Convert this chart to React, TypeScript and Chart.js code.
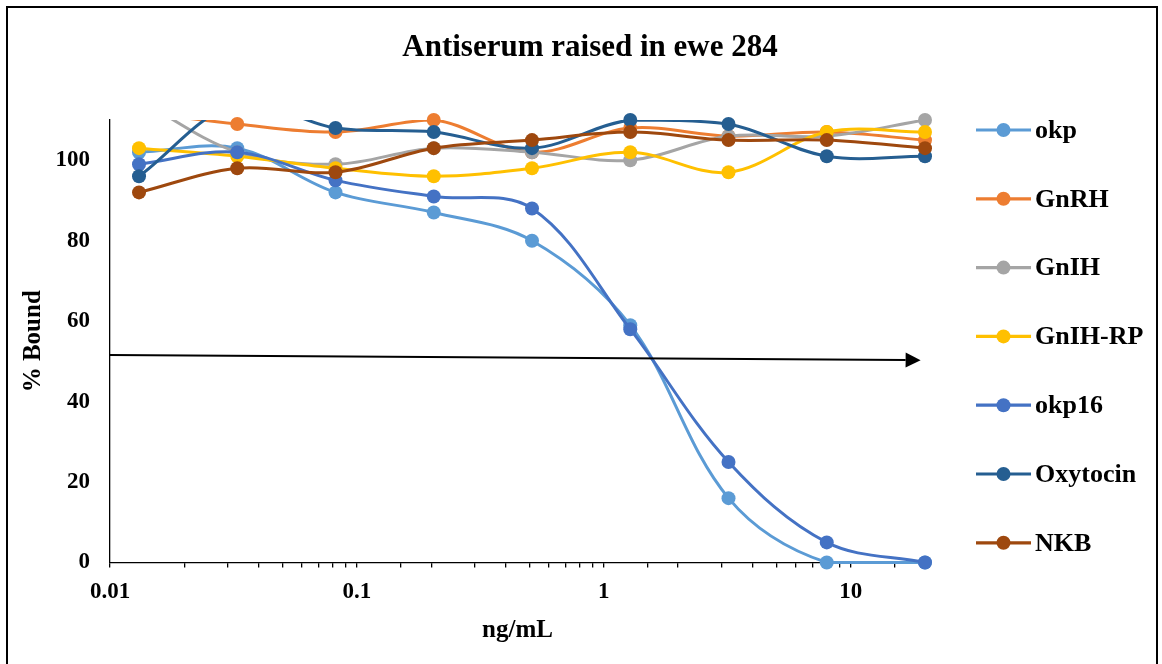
import React, { useEffect, useRef } from 'react';
import { Chart, registerables } from 'chart.js';

Chart.register(...registerables);

// Peptide concentrations (ng/mL), 2.5-fold serial dilution
const CONCENTRATIONS = [0.0131072, 0.032768, 0.08192, 0.2048, 0.512, 1.28, 3.2, 8, 20];

// % bound for each competing peptide
const OKP = [102, 103, 92, 87, 80, 59, 16, 0, 0];
const GNRH = [112, 109, 107, 110, 102, 108, 106, 107, 105];
const GNIH = [115, 102, 99, 103, 102, 100, 106, 106, 110];
const GNIH_RP = [103, 101, 98, 96, 98, 102, 97, 107, 107];
const OKP16 = [99, 102, 95, 91, 88, 58, 25, 5, 0];
const OXYTOCIN = [96, 114, 108, 107, 103, 110, 109, 101, 101];
const NKB = [92, 98, 97, 103, 105, 107, 105, 105, 103];

const SERIES_NAMES = ['okp', 'GnRH', 'GnIH', 'GnIH-RP', 'okp16', 'Oxytocin', 'NKB'];
const SERIES_VALUES = [OKP, GNRH, GNIH, GNIH_RP, OKP16, OXYTOCIN, NKB];
const SERIES_COLORS = ['#5B9BD5', '#ED7D31', '#A5A5A5', '#FFC000', '#4472C4', '#255E91', '#9E480E'];

const TITLE = 'Antiserum raised in ewe 284';
const X_TITLE = 'ng/mL';
const Y_TITLE = '% Bound';

const X_MIN = 0.01;
const X_MAX = 20;
const Y_MIN = 0;
const Y_MAX = 110;
const Y_STEP = 20;

// 50% binding reference arrow, in data units [ng/mL, % bound]
const ARROW_FROM = [0.01, 51.6];
const ARROW_TO = [19.2, 50.3];

const FONT_FAMILY = "'Liberation Serif', 'Times New Roman', serif";
const LINE_WIDTH = 3;
const MARKER_RADIUS = 7;

const isDecade = (v: number) => {
  const e = Math.log10(v);
  return Math.abs(e - Math.round(e)) < 1e-6;
};

const titlePlugin = {
  id: 'chartTitle',
  afterDraw(chart: any) {
    const ctx = chart.ctx;
    ctx.save();
    ctx.font = `bold 31px ${FONT_FAMILY}`;
    ctx.fillStyle = '#000';
    ctx.textAlign = 'center';
    ctx.textBaseline = 'middle';
    ctx.fillText(TITLE, 590, 48);
    ctx.restore();
  },
};

const arrowPlugin = {
  id: 'halfBindingArrow',
  afterDatasetsDraw(chart: any) {
    const { ctx, scales } = chart;
    const x0 = scales.x.getPixelForValue(ARROW_FROM[0]);
    const y0 = scales.y.getPixelForValue(ARROW_FROM[1]);
    const x1 = scales.x.getPixelForValue(ARROW_TO[0]);
    const y1 = scales.y.getPixelForValue(ARROW_TO[1]);
    const ang = Math.atan2(y1 - y0, x1 - x0);
    const headLen = 15;
    const headHalf = 7.5;
    const bx = x1 - headLen * Math.cos(ang);
    const by = y1 - headLen * Math.sin(ang);
    ctx.save();
    ctx.strokeStyle = '#000';
    ctx.fillStyle = '#000';
    ctx.lineWidth = 2;
    ctx.beginPath();
    ctx.moveTo(x0, y0);
    ctx.lineTo(bx, by);
    ctx.stroke();
    ctx.beginPath();
    ctx.moveTo(x1, y1);
    ctx.lineTo(bx + headHalf * Math.sin(ang), by - headHalf * Math.cos(ang));
    ctx.lineTo(bx - headHalf * Math.sin(ang), by + headHalf * Math.cos(ang));
    ctx.closePath();
    ctx.fill();
    ctx.restore();
  },
};

const legendPlugin = {
  id: 'sideLegend',
  afterDraw(chart: any) {
    const ctx = chart.ctx;
    const left = 976;
    const lineLen = 55;
    const top = 130;
    const step = 68.8;
    ctx.save();
    ctx.font = `bold 26px ${FONT_FAMILY}`;
    ctx.textBaseline = 'middle';
    ctx.textAlign = 'left';
    SERIES_NAMES.forEach((name, i) => {
      const y = top + i * step;
      const color = SERIES_COLORS[i];
      ctx.strokeStyle = color;
      ctx.lineWidth = 3.2;
      ctx.beginPath();
      ctx.moveTo(left, y);
      ctx.lineTo(left + lineLen, y);
      ctx.stroke();
      ctx.fillStyle = color;
      ctx.beginPath();
      ctx.arc(left + lineLen / 2, y, MARKER_RADIUS, 0, Math.PI * 2);
      ctx.fill();
      ctx.fillStyle = '#000';
      ctx.fillText(name, left + lineLen + 4, y + 1);
    });
    ctx.restore();
  },
};

export default function App() {
  const canvasRef = useRef<HTMLCanvasElement | null>(null);

  useEffect(() => {
    const canvas = canvasRef.current;
    if (!canvas) return;
    const n = SERIES_NAMES.length;
    const datasets: any[] = [];
    SERIES_NAMES.forEach((name, i) => {
      const points = CONCENTRATIONS.map((c, k) => ({ x: c, y: SERIES_VALUES[i][k] }));
      // smoothed curve, clipped to the plot area
      datasets.push({
        label: name,
        data: points,
        borderColor: SERIES_COLORS[i],
        backgroundColor: SERIES_COLORS[i],
        borderWidth: LINE_WIDTH,
        pointRadius: 0,
        tension: 0.35,
        fill: false,
        clip: { left: 1, top: 0, right: 2, bottom: 3 },
        order: 2 * (n - i),
      });
      // markers for in-range values
      datasets.push({
        label: name + ' markers',
        data: points.filter((p) => p.y <= Y_MAX),
        showLine: false,
        borderColor: SERIES_COLORS[i],
        backgroundColor: SERIES_COLORS[i],
        pointBackgroundColor: SERIES_COLORS[i],
        pointBorderWidth: 0,
        pointRadius: MARKER_RADIUS,
        clip: false,
        order: 2 * (n - i) - 1,
      });
    });

    const tickFont = { family: FONT_FAMILY, size: 23, weight: 'bold' as const };
    const axisTitleFont = { family: FONT_FAMILY, size: 25, weight: 'bold' as const };

    const chart = new Chart(canvas, {
      type: 'line',
      data: { datasets },
      options: {
        responsive: false,
        animation: false,
        events: [],
        layout: { padding: { top: 120, right: 237, bottom: 0, left: 0 } },
        plugins: {
          legend: { display: false },
          title: { display: false },
          tooltip: { enabled: false },
        },
        scales: {
          x: {
            type: 'logarithmic',
            min: X_MIN,
            max: X_MAX,
            afterFit: (s: any) => {
              s.height = 101.5;
            },
            border: { display: true, color: '#000', width: 1.3 },
            grid: {
              display: true,
              drawOnChartArea: false,
              drawTicks: true,
              tickLength: 5,
              color: '#000',
              lineWidth: 1.3,
            },
            ticks: {
              autoSkip: false,
              maxRotation: 0,
              minRotation: 0,
              padding: 11,
              color: '#000',
              font: tickFont,
              callback: (v: any) => (isDecade(Number(v)) ? String(Number(Number(v).toPrecision(3))) : ''),
            },
            title: {
              display: true,
              text: X_TITLE,
              color: '#000',
              font: axisTitleFont,
              padding: { top: 0, bottom: 18 },
            },
          },
          y: {
            type: 'linear',
            min: Y_MIN,
            max: Y_MAX,
            afterFit: (s: any) => {
              s.width = 110;
            },
            border: { display: true, color: '#000', width: 1.3 },
            grid: { display: true, drawOnChartArea: false, drawTicks: false },
            ticks: {
              stepSize: Y_STEP,
              includeBounds: false,
              padding: 20,
              color: '#000',
              font: tickFont,
              callback: (v: any) => (Number(v) > 100 ? '' : String(v)),
            },
            title: {
              display: true,
              text: Y_TITLE,
              color: '#000',
              font: axisTitleFont,
              padding: { top: 19, bottom: 0 },
            },
          },
        },
      },
      plugins: [arrowPlugin, titlePlugin, legendPlugin],
    } as any);

    return () => chart.destroy();
  }, []);

  return (
    <div style={{ position: 'absolute', left: 0, top: 0, width: 1162, height: 664, overflow: 'hidden', background: '#fff' }}>
      <div
        style={{
          position: 'absolute',
          left: 6,
          top: 6,
          width: 1152,
          height: 720,
          boxSizing: 'border-box',
          border: '2px solid #000',
        }}
      />
      <canvas
        ref={canvasRef}
        width={1162}
        height={664}
        style={{ position: 'absolute', left: 0, top: 0, width: 1162, height: 664 }}
      />
    </div>
  );
}
